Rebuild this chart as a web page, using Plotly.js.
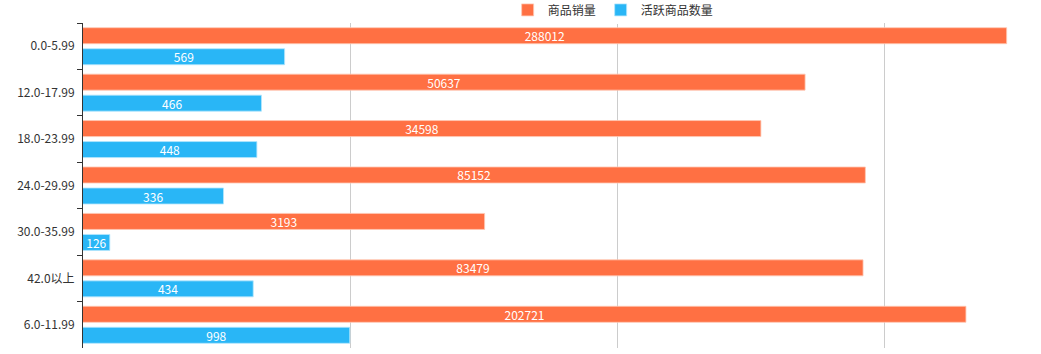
<!DOCTYPE html>
<html>
<head>
<meta charset="utf-8">
<script src="https://cdn.plot.ly/plotly-3.0.1.min.js"></script>
<style>html,body{margin:0;padding:0;background:#fff;}#chart{width:1041px;height:354px;}</style>
</head>
<body>
<div id="chart"></div>
<script>
const categories = ["0.0-5.99", "12.0-17.99", "18.0-23.99", "24.0-29.99", "30.0-35.99", "42.0以上", "6.0-11.99"];
const salesValues = [288012, 50637, 34598, 85152, 3193, 83479, 202721];
const activeValues = [569, 466, 448, 336, 126, 434, 998];
const seriesNames = ["商品销量", "活跃商品数量"];

const font = "'Microsoft YaHei', 'Noto Sans CJK SC', sans-serif";

const traces = [
  {
    type: "bar", orientation: "h", name: seriesNames[0],
    y: categories, x: salesValues,
    text: salesValues.map(String), textposition: "inside", insidetextanchor: "middle",
    textangle: 0, constraintext: "none",
    textfont: {color: "#fff", size: 12, family: font},
    marker: {color: "#FF7043", line: {color: "rgba(255,200,180,0.8)", width: 1}},
    hoverinfo: "x+name"
  },
  {
    type: "bar", orientation: "h", name: seriesNames[1],
    y: categories, x: activeValues,
    text: activeValues.map(String), textposition: "inside", insidetextanchor: "middle",
    textangle: 0, constraintext: "none",
    textfont: {color: "#fff", size: 12, family: font},
    marker: {color: "#29B6F6", line: {color: "rgba(180,230,252,0.8)", width: 1}},
    hoverinfo: "x+name"
  }
];

const layout = {
  width: 1041, height: 354,
  margin: {l: 83, r: 0, t: 23, b: 6, autoexpand: false},
  paper_bgcolor: "#fff", plot_bgcolor: "#fff",
  barmode: "group", bargap: 0.095, bargroupgap: 0.238,
  font: {family: font, size: 12, color: "#333"},
  showlegend: true,
  legend: {
    orientation: "h", xref: "container", yref: "paper",
    x: 0.589, xanchor: "center", y: 1.085, yanchor: "top",
    font: {size: 12, color: "#333", family: font},
    itemwidth: 30, traceorder: "normal"
  },
  xaxis: {
    type: "log", range: [2, 5.588], dtick: 1,
    showticklabels: false, ticks: "",
    showgrid: true, gridcolor: "#ccc", gridwidth: 1,
    showline: false, zeroline: false, fixedrange: true
  },
  yaxis: {
    type: "category", autorange: "reversed",
    tickson: "boundaries", ticks: "outside", ticklen: 5, tickcolor: "#333",
    showline: true, linecolor: "#333", linewidth: 1,
    showgrid: false, zeroline: false,
    tickfont: {size: 12, color: "#333", family: font},
    ticklabelstandoff: 5, fixedrange: true
  }
};

Plotly.newPlot("chart", traces, layout, {displayModeBar: false, staticPlot: true});
</script>
</body>
</html>
